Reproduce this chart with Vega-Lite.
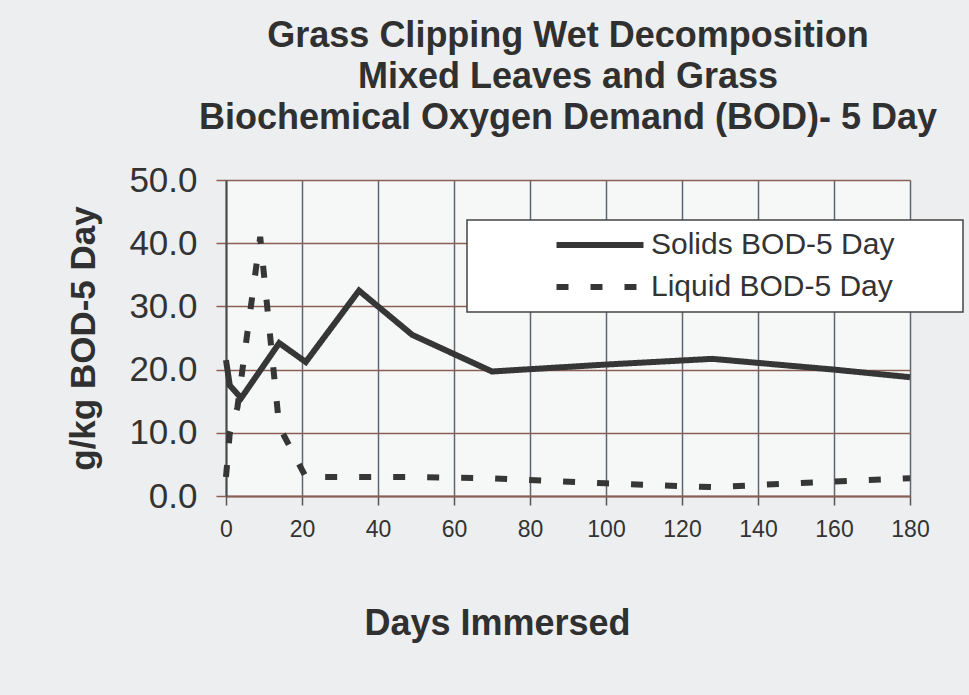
{
  "$schema": "https://vega.github.io/schema/vega-lite/v6.json",
  "width": 684,
  "height": 316,
  "autosize": {"type": "none"},
  "padding": {"left": 226, "top": 180, "right": 59, "bottom": 199},
  "background": "#eceeef",
  "title": {
    "text": ["Grass Clipping Wet Decomposition", "Mixed Leaves and Grass", "Biochemical Oxygen Demand (BOD)- 5 Day"],
    "fontSize": 36,
    "fontWeight": "bold",
    "font": "Liberation Sans",
    "color": "#303030",
    "lineHeight": 41,
    "anchor": "middle",
    "offset": 26
  },
  "data": {
    "values": [
      {"day": 0, "value": 21.5, "series": "Solids BOD-5 Day"},
      {"day": 1, "value": 17.5, "series": "Solids BOD-5 Day"},
      {"day": 4, "value": 15.5, "series": "Solids BOD-5 Day"},
      {"day": 14, "value": 24.2, "series": "Solids BOD-5 Day"},
      {"day": 21, "value": 21.2, "series": "Solids BOD-5 Day"},
      {"day": 35, "value": 32.5, "series": "Solids BOD-5 Day"},
      {"day": 49, "value": 25.5, "series": "Solids BOD-5 Day"},
      {"day": 70, "value": 19.7, "series": "Solids BOD-5 Day"},
      {"day": 100, "value": 20.8, "series": "Solids BOD-5 Day"},
      {"day": 128, "value": 21.7, "series": "Solids BOD-5 Day"},
      {"day": 160, "value": 20.0, "series": "Solids BOD-5 Day"},
      {"day": 180, "value": 18.8, "series": "Solids BOD-5 Day"},
      {"day": 0, "value": 3.0, "series": "Liquid BOD-5 Day"},
      {"day": 1, "value": 10.0, "series": "Liquid BOD-5 Day"},
      {"day": 3, "value": 14.0, "series": "Liquid BOD-5 Day"},
      {"day": 9, "value": 41.0, "series": "Liquid BOD-5 Day"},
      {"day": 14, "value": 11.0, "series": "Liquid BOD-5 Day"},
      {"day": 21, "value": 3.0, "series": "Liquid BOD-5 Day"},
      {"day": 35, "value": 3.0, "series": "Liquid BOD-5 Day"},
      {"day": 49, "value": 3.0, "series": "Liquid BOD-5 Day"},
      {"day": 70, "value": 2.8, "series": "Liquid BOD-5 Day"},
      {"day": 100, "value": 2.0, "series": "Liquid BOD-5 Day"},
      {"day": 128, "value": 1.4, "series": "Liquid BOD-5 Day"},
      {"day": 160, "value": 2.3, "series": "Liquid BOD-5 Day"},
      {"day": 180, "value": 2.8, "series": "Liquid BOD-5 Day"}
    ]
  },
  "mark": {"type": "line", "color": "#363636", "strokeWidth": 6, "strokeCap": "butt", "strokeJoin": "miter"},
  "encoding": {
    "x": {
      "field": "day",
      "type": "quantitative",
      "scale": {"domain": [0, 180], "nice": false, "zero": false},
      "axis": {
        "values": [0, 20, 40, 60, 80, 100, 120, 140, 160, 180],
        "title": "Days Immersed",
        "grid": true,
        "gridColor": "#5f6672",
        "gridWidth": 1.5,
        "gridOpacity": 1,
        "domainColor": "#8c5f55",
        "domainWidth": 2,
        "tickColor": "#555555",
        "tickSize": 9,
        "tickWidth": 1.5,
        "labelFontSize": 23,
        "labelFont": "Liberation Sans",
        "labelColor": "#333333",
        "labelPadding": 13,
        "labelFlush": false,
        "labelOverlap": false,
        "titleFontSize": 36,
        "titleFont": "Liberation Sans",
        "titleFontWeight": "bold",
        "titleColor": "#303030",
        "titlePadding": 65,
        "titleX": 271
      }
    },
    "y": {
      "field": "value",
      "type": "quantitative",
      "scale": {"domain": [0, 50], "nice": false},
      "axis": {
        "values": [0, 10, 20, 30, 40, 50],
        "format": ".1f",
        "title": "g/kg BOD-5 Day",
        "grid": true,
        "gridColor": "#8c5f55",
        "gridWidth": 1.5,
        "gridOpacity": 1,
        "domainColor": "#4a4a4a",
        "domainWidth": 2,
        "tickColor": "#8c5f55",
        "tickSize": 10,
        "tickWidth": 1.5,
        "labelFontSize": 35,
        "labelFont": "Liberation Sans",
        "labelColor": "#333333",
        "labelPadding": 19,
        "labelFlush": false,
        "titleFontSize": 35,
        "titleFont": "Liberation Sans",
        "titleFontWeight": "bold",
        "titleColor": "#303030",
        "titlePadding": 27
      }
    },
    "strokeDash": {
      "field": "series",
      "type": "nominal",
      "scale": {"domain": ["Solids BOD-5 Day", "Liquid BOD-5 Day"], "range": [[1, 0], [12, 22]]},
      "legend": {
        "title": null,
        "orient": "none",
        "legendX": 241,
        "legendY": 40,
        "fillColor": "#ffffff",
        "strokeColor": "#444444",
        "padding": 10,
        "rowPadding": 12,
        "labelFontSize": 30,
        "labelLimit": 600,
        "labelFont": "Liberation Sans",
        "labelColor": "#333333",
        "labelExpr": "datum.label + '\u00a0\u00a0\u00a0\u00a0\u00a0\u00a0\u00a0\u200d'",
        "symbolType": "M-4.35,0L4.35,0",
        "symbolSize": 400,
        "symbolStrokeWidth": 6,
        "symbolStrokeColor": "#363636",
        "symbolOffset": 108,
        "labelOffset": 36,
        "encode": {"legend": {"update": {"strokeWidth": {"value": 1.5}}}}
      }
    }
  },
  "config": {
    "view": {"fill": "#f6f7f7", "stroke": null},
    "font": "Liberation Sans"
  }
}
